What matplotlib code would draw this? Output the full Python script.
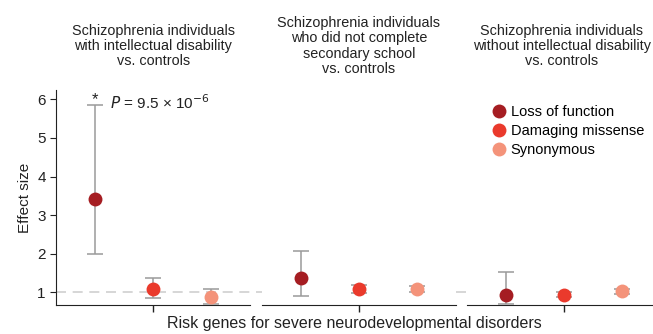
import matplotlib
matplotlib.use('Agg')
import matplotlib.pyplot as plt
from matplotlib.lines import Line2D

plt.rcParams['font.family'] = ['Liberation Sans', 'DejaVu Sans']

titles = ["Schizophrenia individuals\nwith intellectual disability\nvs. controls",
          "Schizophrenia individuals\nwho did not complete\nsecondary school\nvs. controls",
          "Schizophrenia individuals\nwithout intellectual disability\nvs. controls"]
variant_types = ["Loss of function", "Damaging missense", "Synonymous"]
colors = ['#a51d22', '#ea3a2c', '#f4937a']

# effect size, lower CI, upper CI per panel (rows = variant types)
effect = [[3.43, 1.08, 0.87],
          [1.36, 1.09, 1.08],
          [0.93, 0.93, 1.02]]
ci_low = [[2.00, 0.85, 0.70],
          [0.89, 0.99, 1.00],
          [0.70, 0.87, 0.96]]
ci_high = [[5.85, 1.36, 1.09],
           [2.08, 1.20, 1.17],
           [1.53, 1.00, 1.08]]

fig = plt.figure(figsize=(6.53, 3.34), dpi=100)
lefts = [0.086, 0.401, 0.715]
title_x = [0.5, 0.5, 0.49]
axes = []
for i in range(3):
    ax = fig.add_axes([lefts[i], 0.087, 0.297, 0.643])
    axes.append(ax)
    for j in range(3):
        y = effect[i][j]
        ax.errorbar(j, y, yerr=[[y - ci_low[i][j]], [ci_high[i][j] - y]],
                    fmt='o', color=colors[j], ms=10, mec='none',
                    ecolor='#9a9a9a', elinewidth=1.1, capsize=6, capthick=1.1,
                    zorder=3)
    ax.set_xlim(-0.67, 2.67)
    ax.set_ylim(0.67, 6.24)
    ax.set_xticks([1])
    ax.set_xticklabels([])
    ax.tick_params(axis='x', length=5, width=1, color='#222222')
    for s in ['top', 'right']:
        ax.spines[s].set_visible(False)
    ax.spines['bottom'].set_color('#222222')
    ax.text(title_x[i], 1.205, titles[i], transform=ax.transAxes, ha='center',
            va='center', fontsize=10.4, color='#222222', linespacing=1.12)
    if i == 0:
        ax.set_yticks([1, 2, 3, 4, 5, 6])
        ax.tick_params(axis='y', labelsize=11, length=4, colors='#222222')
        ax.spines['left'].set_color('#222222')
        ax.set_ylabel("Effect size", fontsize=11, color='#222222')
    else:
        ax.spines['left'].set_visible(False)
        ax.set_yticks([])

axes[0].axhline(1, xmin=0, xmax=3.1, color='#d0d0d0', ls=(0, (6, 4)), lw=1.2,
                clip_on=False, zorder=1)

axes[0].text(0, 6.0, "*", ha='center', va='center', fontsize=12, color='#222222')
axes[0].text(0.25, 5.75, r"$P$ = 9.5 × 10$^{-6}$", fontsize=11, color='#222222')

handles = [Line2D([], [], ls='none', marker='o', ms=10, mec='none', color=c)
           for c in colors]
axes[2].legend(handles, variant_types, loc='upper left', bbox_to_anchor=(0.09, 0.965),
               frameon=False, fontsize=10.5, handletextpad=0.3, labelspacing=0.35,
               borderpad=0, handlelength=1.0)

fig.text(0.543, 0.008, "Risk genes for severe neurodevelopmental disorders",
         ha='center', va='bottom', fontsize=11.5, color='#222222')

plt.savefig("out.png", dpi=100)
plt.close()
